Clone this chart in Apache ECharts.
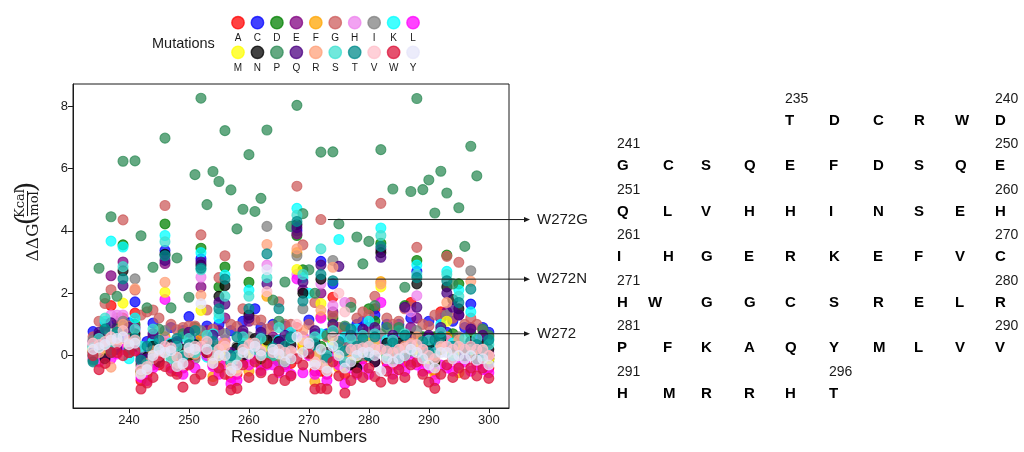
<!DOCTYPE html>
<html><head><meta charset="utf-8">
<script src="https://cdn.jsdelivr.net/npm/echarts@6/dist/echarts.min.js"></script>
<style>html,body{margin:0;padding:0;background:#fff}#c{width:1024px;height:452px}</style>
</head><body><div id="c"></div>
<script>
// ---------------- data ----------------
const residues = [234,235,236,237,238,239,240,241,242,243,
  244,245,246,247,248,249,250,251,252,253,
  254,255,256,257,258,259,260,261,262,263,
  264,265,266,267,268,269,270,271,272,273,
  274,275,276,277,278,279,280,281,282,283,
  284,285,286,287,288,289,290,291,292,293,
  294,295,296,297,298,299,300];

const mutations = ['A','C','D','E','F','G','H','I','K','L','M','N','P','Q','R','S','T','V','W','Y'];
const mutationColors = ['#ff0000','#0000ff','#008000','#800080','#ffa500','#cd5c5c','#ee82ee','#808080','#00ffff','#ff00ff',
  '#ffff00','#000000','#2e8b57','#4b0082','#ffa07a','#40e0d0','#008b8b','#ffc0cb','#dc143c','#e6e6fa'];

const ddG_A = [0.1,0.5,0.3,1.6,0.3,1.2,0.4,1.36,-0.8,-0.6,
  -0.3,-0.3,0.4,0.2,-0.5,-0.4,0.1,0.0,0.5,0.3,
  -0.3,-0.2,0.1,-0.7,-0.6,-0.2,0.2,0.1,-0.3,0.2,
  -0.1,-0.2,-0.3,-0.25,0.9,0.3,0.3,-0.5,-0.5,-0.6,
  1.87,-0.2,-0.6,-0.3,-0.2,-0.1,0.0,1.5,0.3,-0.2,
  -0.3,-0.2,-0.2,1.7,0.5,-0.2,-0.4,-0.5,1.4,0.4,
  -0.1,0.2,-0.1,0.1,-0.2,-0.1,-0.4];
const ddG_C = [0.77,0.55,1.0,0.35,1.1,0.6,1.05,1.72,0.1,0.45,
  1.04,0.2,3.37,0.9,0.35,0.8,1.25,0.45,3.1,0.95,
  0.3,1.0,0.5,0.8,0.15,1.1,0.4,1.5,0.9,0.25,
  1.0,0.5,0.95,0.2,4.0,0.6,1.14,0.3,3.02,0.7,
  2.3,0.4,0.9,0.15,1.0,1.1,0.5,1.3,0.35,1.0,
  0.55,1.0,0.3,1.2,2.7,0.5,1.1,0.45,1.2,0.75,
  1.1,0.35,0.9,1.65,0.5,0.9,0.75];
const ddG_D = [0.3,0.2,0.9,0.4,0.9,3.55,0.1,1.0,-0.3,-0.2,
  0.5,0.0,4.22,0.1,0.3,-0.1,0.6,0.9,3.44,0.2,
  -0.2,2.2,2.84,0.0,-0.2,0.6,2.35,0.1,0.5,0.0,
  0.5,0.1,0.5,-0.1,3.85,2.75,0.2,0.6,0.3,-0.3,
  1.2,0.0,0.4,0.5,-0.1,0.7,1.5,1.1,3.6,0.1,
  0.5,-0.1,1.6,0.3,3.05,0.6,0.0,0.6,0.2,3.22,
  0.7,2.3,0.1,0.7,0.0,0.5,-0.1];
const ddG_E = [0.45,0.1,0.75,2.56,0.3,3.0,0.2,0.9,-0.2,-0.3,
  0.6,-0.1,2.95,0.0,0.4,-0.2,0.7,0.1,2.2,0.8,
  0.0,0.8,1.2,0.1,-0.2,0.7,1.1,0.2,0.6,0.3,
  0.6,0.1,-0.2,0.65,3.9,2.1,0.3,0.7,2.0,-0.2,
  1.4,0.2,0.5,0.0,0.7,0.1,0.9,0.3,3.4,0.2,
  -0.1,0.7,0.2,0.9,1.2,0.1,0.6,0.2,0.8,1.4,
  0.2,1.3,0.0,0.9,0.1,0.6,0.0];
const ddG_F = [0.2,0.2,0.4,0.5,0.6,0.9,0.5,0.6,-0.6,-0.3,
  0.0,-0.1,0.6,0.0,-0.2,-0.2,0.2,0.1,0.6,0.4,
  -0.67,-0.5,-0.2,-0.2,-0.3,-0.1,-0.5,0.3,0.0,1.9,
  0.1,0.0,-0.1,0.0,3.3,0.2,0.4,-0.83,1.25,-0.3,
  0.9,-0.4,-0.3,-0.1,0.0,0.1,0.2,0.2,2.37,0.0,
  -0.1,0.0,0.1,0.3,0.4,0.0,-0.2,-0.6,0.2,0.6,
  0.0,-0.55,0.0,0.2,0.0,0.1,-0.1];
const ddG_G = [0.6,1.1,1.67,2.11,1.2,4.35,0.95,2.1,1.3,1.4,
  1.46,1.2,4.81,1.0,0.83,0.9,0.95,0.95,3.87,1.46,
  0.85,2.5,3.2,1.0,0.93,1.5,2.87,1.14,1.14,0.85,
  0.95,1.72,1.0,1.0,5.43,3.55,1.0,1.7,4.36,0.6,
  1.3,0.9,0.8,1.7,1.2,1.4,1.3,1.9,4.88,1.2,
  1.0,1.1,1.5,1.55,3.47,1.0,0.95,1.3,1.3,3.18,
  1.2,2.99,1.0,1.2,1.0,0.8,0.6];
const ddG_H = [0.35,0.4,0.55,1.3,1.3,1.3,0.6,0.8,-0.4,-0.1,
  0.2,0.1,0.5,0.3,-0.1,0.1,0.3,0.2,2.51,0.5,
  0.1,0.4,0.5,0.1,0.0,0.3,0.3,0.5,0.2,2.9,
  0.3,0.2,0.2,0.25,2.6,0.6,0.5,0.3,2.3,0.0,
  1.6,0.5,1.7,0.3,0.3,0.4,0.5,0.5,0.5,0.3,
  0.2,0.3,0.4,1.4,1.92,0.3,0.1,0.2,0.5,0.5,
  0.3,0.4,0.3,0.4,0.3,0.3,0.1];
const ddG_I = [0.5,0.1,0.6,0.2,0.8,1.1,0.1,2.46,0.0,-0.3,
  0.4,-0.2,0.8,0.0,0.2,-0.3,0.5,-0.1,0.8,0.1,
  0.3,0.0,0.7,-0.4,0.3,-0.1,0.6,0.1,-0.2,4.14,
  0.4,-0.2,0.4,0.0,3.2,1.5,0.1,0.5,0.0,-0.3,
  3.05,0.0,0.3,-0.1,0.5,0.0,0.7,0.1,0.7,-0.1,
  0.4,0.0,0.6,0.1,0.8,-0.1,0.4,0.0,0.6,1.3,
  0.0,0.6,-0.1,2.72,0.1,0.4,-0.2];
const ddG_K = [0.25,0.1,1.1,3.67,0.2,3.48,-0.1,1.2,0.3,-0.2,
  0.45,0.0,3.85,0.4,-0.15,0.6,0.1,0.35,3.3,-0.05,
  0.7,1.2,2.58,0.0,-0.3,0.4,2.1,0.2,0.6,0.1,
  0.3,0.5,-0.1,0.75,4.72,2.5,2.0,0.1,0.7,-0.2,
  0.4,3.72,0.6,-0.1,0.85,0.2,1.1,0.3,4.09,0.5,
  0.15,0.8,0.1,0.5,2.9,0.0,0.35,0.2,1.0,2.7,
  0.4,2.1,0.0,1.4,0.3,0.15,0.55];
const ddG_L = [-0.1,-0.2,0.0,-0.1,0.05,0.2,0.15,0.2,-0.7,-0.8,
  -0.4,-0.2,1.8,-0.4,-0.45,-0.6,-0.25,-0.4,0.2,0.0,
  -0.35,-0.6,-0.3,-0.9,-0.8,-0.2,-0.3,-0.1,-0.48,-0.3,
  -0.3,-0.55,-0.35,-0.6,2.46,-0.55,0.0,-0.6,1.2,-0.8,
  0.0,-0.3,-0.9,-0.4,-0.6,-0.35,-0.6,-0.2,1.7,-0.4,
  -0.6,-0.3,-0.5,-0.2,-0.3,-0.5,-0.4,-0.8,-0.3,-0.4,
  -0.5,-0.3,-0.2,-0.5,-0.3,-0.45,-0.55];
const ddG_M = [0.15,0.3,0.2,0.4,0.45,1.68,0.3,0.5,-0.5,-0.2,
  0.1,0.0,2.03,0.1,-0.3,-0.1,0.0,0.15,1.45,0.25,
  -0.1,0.1,0.2,-0.3,-0.4,0.1,0.1,0.25,-0.1,0.3,
  0.0,0.1,-0.1,0.0,2.76,0.4,0.25,-0.05,1.67,-0.2,
  0.5,0.1,-0.1,0.0,0.1,0.2,0.4,0.3,2.2,0.1,
  0.0,0.1,0.2,0.4,0.2,0.1,-0.1,-0.2,0.3,1.1,
  0.1,0.2,0.1,0.2,0.1,0.1,-0.1];
const ddG_N = [0.0,0.65,-0.1,0.2,0.6,2.72,0.1,0.7,-0.5,-0.05,
  0.3,-0.2,3.25,0.35,-0.3,0.2,0.0,0.35,2.9,0.1,
  0.2,1.9,2.24,-0.2,0.24,0.0,1.3,0.55,-0.1,0.5,
  0.0,0.45,-0.2,0.35,4.2,2.0,0.1,0.4,2.45,0.1,
  0.75,0.25,-0.2,-0.3,-0.4,0.3,0.0,-0.2,3.3,0.4,
  -0.1,0.4,0.0,0.6,2.3,0.0,0.3,-0.2,0.55,2.2,
  1.8,1.5,0.0,0.45,-0.1,0.35,0.2];
const ddG_P = [-0.15,2.8,1.84,4.45,1.9,6.23,0.85,6.24,3.84,1.53,
  2.83,0.85,6.97,1.53,3.13,0.7,1.87,5.8,8.25,4.84,
  5.9,5.58,7.21,5.31,4.06,4.69,6.44,4.62,5.04,7.23,
  1.78,1.1,2.36,4.14,8.02,4.55,2.75,2.0,6.52,0.65,
  6.53,4.22,0.95,1.55,3.8,2.94,3.66,1.6,6.6,0.9,
  5.34,0.9,2.19,5.26,8.24,5.32,5.63,4.57,5.91,5.21,
  2.3,4.74,3.5,6.71,5.76,0.85,0.65];
const ddG_Q = [0.1,0.75,0.4,1.05,0.2,2.24,0.9,0.3,-0.1,-0.1,
  0.7,0.0,3.05,0.2,0.45,-0.2,0.75,0.1,3.0,0.4,
  0.65,1.7,1.65,0.1,-0.3,0.8,1.2,0.2,0.75,2.3,
  0.1,0.4,0.65,0.0,4.1,2.36,0.3,0.8,2.9,-0.1,
  1.0,2.86,-0.2,0.65,0.1,0.85,0.3,0.9,3.15,0.2,
  0.65,0.0,1.55,0.5,1.55,0.2,0.65,0.1,0.9,2.0,
  1.55,1.3,0.1,0.85,0.3,0.65,0.0];
const ddG_R = [0.05,0.1,0.3,-0.37,0.5,1.0,0.45,2.14,-0.55,-0.25,
  0.15,0.1,2.35,0.0,-0.25,0.0,0.2,0.05,1.93,0.35,
  -0.2,0.3,0.4,-0.1,-0.1,0.2,0.4,0.35,0.1,3.56,
  0.2,0.15,0.0,0.1,3.42,0.8,0.45,0.0,1.45,-0.1,
  2.83,0.3,0.0,0.1,0.2,0.3,0.35,0.4,2.3,0.2,
  0.1,0.2,0.3,0.4,0.6,0.2,0.0,0.0,0.35,1.7,
  0.2,0.5,0.2,2.38,0.2,0.2,0.0];
const ddG_S = [0.0,0.55,1.2,0.2,0.65,2.85,0.1,0.85,0.28,-0.3,
  0.85,0.2,3.65,-0.1,0.3,0.0,0.55,0.1,2.75,0.65,
  0.1,1.35,1.9,-0.2,0.0,0.6,1.9,0.2,0.55,2.5,
  0.0,0.9,0.1,0.55,4.5,2.6,0.2,0.6,3.42,0.0,
  0.8,0.2,-0.2,0.55,0.1,0.65,0.3,0.7,3.85,0.0,
  0.5,0.1,0.7,0.2,2.6,0.0,0.5,0.1,0.75,2.6,
  0.0,1.9,0.55,0.2,0.55,0.0,0.35];
const ddG_T = [-0.2,0.3,0.85,0.1,0.75,2.46,0.2,0.55,-0.15,0.3,
  -0.1,0.5,3.2,0.15,0.55,-0.05,0.35,0.8,2.8,0.25,
  0.45,1.5,2.45,0.0,0.6,0.3,1.5,0.4,0.05,3.26,
  0.25,1.5,0.3,0.6,4.3,1.75,0.2,0.35,2.6,-0.1,
  2.4,0.45,0.15,0.85,0.3,0.55,0.0,0.6,3.5,0.2,
  0.4,-0.1,0.65,0.25,2.5,0.45,0.1,0.5,0.6,2.4,
  0.3,1.7,0.2,2.13,0.35,0.1,0.5];
const ddG_V = [0.4,0.35,0.45,0.6,0.4,0.8,0.4,0.5,-0.45,-0.35,
  -0.1,0.0,0.3,0.25,-0.05,-0.3,0.1,0.3,0.3,0.45,
  0.0,0.2,0.3,-0.4,-0.5,0.2,0.35,0.4,0.15,2.05,
  0.1,0.2,0.1,0.15,1.0,0.5,0.3,-0.2,-0.3,-0.4,
  0.6,2.0,1.4,0.2,0.2,0.25,0.3,0.2,0.2,0.15,
  0.1,0.2,0.25,0.35,0.35,0.2,0.0,-0.1,0.3,0.3,
  0.2,0.3,0.2,0.3,0.2,0.2,0.0];
const ddG_W = [0.0,-0.45,-0.25,0.1,0.1,0.0,0.1,0.15,-1.07,-0.88,
  -0.7,-0.2,-0.35,-0.5,-0.6,-1.01,-0.3,-0.75,-0.6,0.1,
  -0.8,-0.4,-0.6,-1.1,-1.05,-0.3,-0.7,-0.2,-0.55,-0.25,
  -0.75,-0.5,-0.8,-0.65,-0.1,-0.3,0.05,-1.07,-1.05,-1.07,
  -0.2,-0.65,-1.2,-0.8,-0.55,-0.7,-0.4,-0.67,-0.85,-0.5,
  -0.75,-0.45,-0.7,-0.3,-0.2,-0.6,-0.85,-1.05,-0.6,-0.3,
  -0.7,-0.4,-0.6,-0.4,-0.65,-0.4,-0.73];
const ddG_Y = [0.2,0.25,0.35,0.5,0.55,0.6,0.35,0.4,-0.6,-0.45,
  0.0,0.2,0.1,0.15,-0.35,-0.25,0.25,0.2,1.66,0.2,
  -0.25,0.0,0.0,-0.5,-0.3,0.1,0.05,0.3,0.0,2.75,
  0.2,0.05,-0.2,-0.1,0.6,0.1,0.4,-0.3,0.2,-0.5,
  0.3,0.0,-0.4,-0.2,0.0,0.1,0.1,0.0,-0.5,-0.1,
  -0.2,-0.1,0.0,0.2,0.1,-0.1,-0.3,-0.4,0.1,0.1,
  -0.1,0.0,-0.1,0.0,-0.15,-0.1,-0.3];

const mutationValues = [ddG_A,ddG_C,ddG_D,ddG_E,ddG_F,ddG_G,ddG_H,ddG_I,ddG_K,ddG_L,
  ddG_M,ddG_N,ddG_P,ddG_Q,ddG_R,ddG_S,ddG_T,ddG_V,ddG_W,ddG_Y];

const xTicks = [240,250,260,270,280,290,300];
const yTicks = [0,2,4,6,8];

const annotations = [
  {label:'W272G', residue:272, value:4.36},
  {label:'W272N', residue:272, value:2.45},
  {label:'W272',  residue:272, value:0.70}
];

const seqStart = 235;
const sequence = ['T','D','C','R','W','D',
  'G','C','S','Q','E','F','D','S','Q','E',
  'Q','L','V','H','H','I','N','S','E','H',
  'I','H','G','E','R','K','E','F','V','C',
  'H','W','G','G','C','S','R','E','L','R',
  'P','F','K','A','Q','Y','M','L','V','V',
  'H','M','R','R','H','T'];

// ---------------- chart ----------------
const SANS = '"Liberation Sans", Arial, sans-serif';
const SERIF = '"DejaVu Serif", "Liberation Serif", serif';
const INK = '#1a1a1a';
const chart = echarts.init(document.getElementById('c'), null, {renderer:'canvas'});

const series = mutations.map((m, k) => ({
  name: m,
  type: 'scatter',
  data: residues.map((r, i) => [r, mutationValues[k][i]]),
  symbol: 'circle',
  symbolSize: 10,
  itemStyle: {color: mutationColors[k], borderColor: mutationColors[k], borderWidth: 1.1, opacity: 0.74},
  emphasis: {disabled: true},
  silent: true
}));

chart.setOption({
  animation: false,
  backgroundColor: '#fff',
  grid: {left: 73, top: 84, width: 436, height: 324, show: true, borderColor: INK, borderWidth: 1, backgroundColor: 'transparent'},
  xAxis: {
    type: 'value', min: 230.66, max: 303.37,
    axisLine: {show: true, onZero: false, lineStyle: {color: INK, width: 1}},
    axisTick: {show: true, length: 5, customValues: xTicks, lineStyle: {color: INK}},
    axisLabel: {customValues: xTicks, color: INK, fontSize: 13, fontFamily: SANS, margin: 6},
    splitLine: {show: false}
  },
  yAxis: {
    type: 'value', min: -1.68, max: 8.705,
    axisLine: {show: true, onZero: false, lineStyle: {color: INK, width: 1}},
    axisTick: {show: true, length: 5, customValues: yTicks, lineStyle: {color: INK}},
    axisLabel: {customValues: yTicks, color: INK, fontSize: 13, fontFamily: SANS, margin: 5},
    splitLine: {show: false}
  },
  series: series
});

// ---------------- decorations ----------------
const g = [];
function txt(text, x, y, size, opts) {
  opts = opts || {};
  return {type:'text', z: 50, style: {text: text, x: x, y: y, fontSize: size,
    fontFamily: opts.family || SANS, fontWeight: opts.weight || 'normal', fill: opts.fill || INK,
    textAlign: opts.align || 'left', align: opts.align || 'left',
    textVerticalAlign: 'middle', verticalAlign: 'middle'}};
}

// legend
g.push(txt('Mutations', 152, 44, 14.5));
mutations.forEach((m, k) => {
  const row = k < 10 ? 0 : 1, col = k % 10;
  const cx = 238 + col * 19.45;
  const cy = row ? 52.3 : 22.7;
  g.push({type:'circle', z: 50, shape:{cx: cx, cy: cy, r: 6.2},
    style:{fill: mutationColors[k], stroke: mutationColors[k], lineWidth: 1.4, opacity: 0.74}});
  g.push(txt(m, cx, row ? 67.8 : 38.3, 10, {align:'center'}));
});

// x axis title
g.push(txt('Residue Numbers', 299, 437.5, 17, {align:'center'}));

// y axis title (rotated, with fraction)
g.push({type:'group', x: 34, y: 222, rotation: Math.PI / 2, z: 50, children: [
  txt('\u0394\u0394G', -20.5, 0, 17, {align:'center', family: SERIF}),
  txt('(', 2, -6, 28, {align:'center', family: SERIF}),
  txt('Kcal', 18.5, -13.5, 13, {align:'center', family: SERIF}),
  {type:'line', z: 50, shape:{x1: 6, y1: -6.5, x2: 31, y2: -6.5}, style:{stroke: INK, lineWidth: 1}},
  txt('mol', 18.5, 0.5, 13, {align:'center', family: SERIF}),
  txt(')', 35, -6, 28, {align:'center', family: SERIF})
]});

// annotations
annotations.forEach(a => {
  const p = chart.convertToPixel({gridIndex: 0}, [a.residue, a.value]);
  const y = p[1];
  const x0 = p[0] + 7, tip = 530;
  g.push({type:'line', z: 60, shape:{x1: x0, y1: y, x2: tip - 4, y2: y}, style:{stroke: INK, lineWidth: 1}});
  g.push({type:'polygon', z: 60, shape:{points: [[tip, y], [tip - 6, y - 2.6], [tip - 6, y + 2.6]]}, style:{fill: INK}});
  g.push(txt(a.label, 537, y, 15));
});

// sequence table
const colX = [617, 663, 701, 744, 785, 829, 873, 914, 955, 995];
sequence.forEach((aa, i) => {
  const resNo = seqStart + i;
  const off = resNo - 231;
  const row = Math.floor(off / 10), col = off % 10;
  const ny = 98.7 + row * 45.5;
  const lx = (aa === 'W' && col === 1) ? 648 : colX[col];
  g.push(txt(aa, lx, ny + 22, 15, {weight: 'bold', fill: '#000'}));
  const isFirst = (i === 0) || col === 0;
  const isLast = (i === sequence.length - 1) || col === 9;
  if (isFirst || isLast) g.push(txt(String(resNo), colX[col], ny, 14));
});

chart.setOption({graphic: g});
</script>
</body></html>
